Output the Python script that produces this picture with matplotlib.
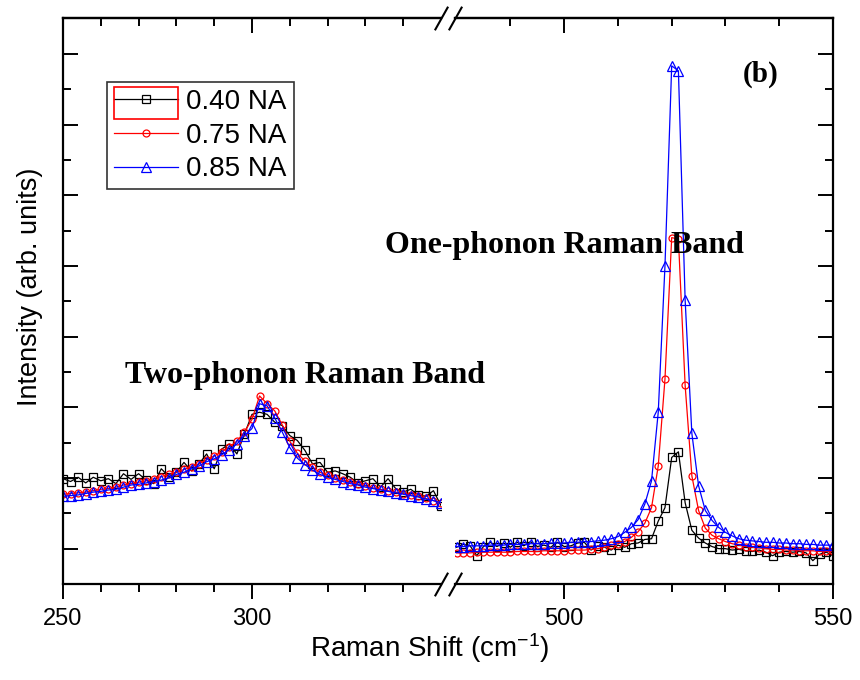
import numpy as np
import matplotlib
matplotlib.use("Agg")
import matplotlib.pyplot as plt
from matplotlib.patches import Rectangle

plt.rcParams['font.family'] = ['Liberation Sans', 'DejaVu Sans']
plt.rcParams['mathtext.default'] = 'regular'

# Raman shift grids (cm^-1) for the two broken segments
shift_low = [250, 252, 254, 256, 258, 260, 262, 264, 266, 268,
             270, 272, 274, 276, 278, 280, 282, 284, 286, 288,
             290, 292, 294, 296, 298, 300, 302, 304, 306, 308,
             310, 312, 314, 316, 318, 320, 322, 324, 326, 328,
             330, 332, 334, 336, 338, 340, 342, 344, 346, 348,
             350]
shift_high = [480.0, 481.25, 482.5, 483.75, 485.0, 486.25, 487.5, 488.75,
              490.0, 491.25, 492.5, 493.75, 495.0, 496.25, 497.5, 498.75,
              500.0, 501.25, 502.5, 503.75, 505.0, 506.25, 507.5, 508.75,
              510.0, 511.25, 512.5, 513.75, 515.0, 516.25, 517.5, 518.75,
              520.0, 521.25, 522.5, 523.75, 525.0, 526.25, 527.5, 528.75,
              530.0, 531.25, 532.5, 533.75, 535.0, 536.25, 537.5, 538.75,
              540.0, 541.25, 542.5, 543.75, 545.0, 546.25, 547.5, 548.75,
              550.0]

# intensities (arb. units), two-phonon region
na040_low = [0.99, 0.95, 1.01, 0.93, 1.01, 0.96, 0.99, 0.92, 1.06, 0.98,
             1.06, 0.97, 0.92, 1.13, 1.02, 1.08, 1.22, 1.10, 1.20, 1.34,
             1.13, 1.41, 1.48, 1.34, 1.62, 1.90, 1.93, 1.90, 1.79, 1.74,
             1.60, 1.53, 1.39, 1.20, 1.22, 1.08, 1.10, 1.06, 1.01, 0.93,
             0.96, 0.99, 0.87, 0.99, 0.85, 0.80, 0.84, 0.76, 0.74, 0.82,
             0.61]
na075_low = [0.77, 0.78, 0.79, 0.80, 0.82, 0.84, 0.85, 0.87, 0.90, 0.92,
             0.94, 0.96, 0.99, 1.02, 1.05, 1.08, 1.12, 1.16, 1.20, 1.26,
             1.31, 1.37, 1.44, 1.52, 1.65, 1.83, 2.16, 2.05, 1.95, 1.75,
             1.52, 1.35, 1.24, 1.15, 1.08, 1.04, 1.00, 0.97, 0.94, 0.91,
             0.89, 0.86, 0.84, 0.82, 0.80, 0.78, 0.76, 0.74, 0.71, 0.68,
             0.64]
na085_low = [0.74, 0.75, 0.76, 0.78, 0.80, 0.81, 0.83, 0.84, 0.87, 0.90,
             0.91, 0.93, 0.95, 0.97, 1.00, 1.05, 1.08, 1.13, 1.17, 1.23,
             1.27, 1.33, 1.40, 1.48, 1.60, 1.70, 2.05, 2.02, 1.85, 1.65,
             1.43, 1.28, 1.19, 1.11, 1.05, 1.01, 0.98, 0.95, 0.92, 0.90,
             0.87, 0.85, 0.83, 0.81, 0.79, 0.77, 0.75, 0.73, 0.70, 0.68,
             0.65]

# intensities (arb. units), one-phonon region
na040_high = [0.02, 0.06, 0.04, -0.10, 0.03, 0.09, 0.03, 0.08,
              0.02, 0.09, 0.04, 0.10, 0.03, 0.05, 0.02, 0.09,
              0.03, 0.04, 0.08, 0.09, -0.02, 0.04, 0.02, -0.02,
              0.05, 0.02, 0.07, 0.08, 0.13, 0.14, 0.39, 0.58,
              1.29, 1.37, 0.65, 0.26, 0.15, 0.08, 0.03, 0.00,
              0.00, -0.02, -0.01, -0.03, -0.04, -0.02, -0.05, -0.10,
              -0.05, -0.04, -0.05, -0.04, -0.06, -0.17, -0.08, -0.05,
              -0.10]
na075_high = [-0.06, -0.06, -0.06, -0.05, -0.05, -0.05, -0.05, -0.05,
              -0.05, -0.04, -0.04, -0.04, -0.04, -0.03, -0.03, -0.03,
              -0.03, -0.02, -0.02, -0.02, -0.01, 0.00, 0.02, 0.05,
              0.07, 0.10, 0.16, 0.24, 0.36, 0.58, 1.17, 2.40,
              4.40, 4.38, 2.31, 1.03, 0.54, 0.29, 0.19, 0.14,
              0.10, 0.07, 0.05, 0.03, 0.02, 0.01, 0.00, -0.01,
              -0.01, -0.02, -0.02, -0.03, -0.03, -0.03, -0.04, -0.04,
              -0.04]
na085_high = [0.03, 0.03, 0.04, 0.04, 0.04, 0.05, 0.05, 0.05,
              0.06, 0.06, 0.06, 0.07, 0.07, 0.07, 0.08, 0.08,
              0.08, 0.09, 0.09, 0.10, 0.10, 0.11, 0.12, 0.14,
              0.17, 0.23, 0.30, 0.41, 0.63, 0.96, 1.93, 4.00,
              6.83, 6.76, 3.52, 1.63, 0.89, 0.54, 0.40, 0.30,
              0.23, 0.18, 0.14, 0.12, 0.11, 0.10, 0.09, 0.09,
              0.08, 0.08, 0.07, 0.07, 0.06, 0.06, 0.05, 0.05,
              0.05]

labels = ['0.40 NA', '0.75 NA', '0.85 NA']
colors = ['black', 'red', 'blue']
markers = ['s', 'o', '^']
msizes = [5.5, 5, 6.5]

fig = plt.figure(figsize=(8.6, 6.8), dpi=100)
W, H = 860.0, 680.0
bot = 1 - 584 / H
hgt = (584 - 18.5) / H
ax1 = fig.add_axes([63 / W, bot, 378 / W, hgt])
ax2 = fig.add_axes([455 / W, bot, 378 / W, hgt])

lows = [na040_low, na075_low, na085_low]
highs = [na040_high, na075_high, na085_high]
for i in range(3):
    ax1.plot(shift_low, lows[i], color=colors[i], marker=markers[i], ms=msizes[i],
             mfc='none', mec=colors[i], mew=0.9, lw=0.9, label=labels[i])
    ax2.plot(shift_high, highs[i], color=colors[i], marker=markers[i], ms=msizes[i],
             mfc='none', mec=colors[i], mew=0.9, lw=0.9)

ax1.set_xlim(250, 350)
ax2.set_xlim(479.7, 550)
for ax in (ax1, ax2):
    ax.set_ylim(-0.5, 7.5)
    ax.set_yticks(np.arange(0, 8, 1))
    ax.set_yticks(np.arange(-0.5, 7.6, 1), minor=True)
    for s in ax.spines.values():
        s.set_linewidth(1.6)

ax1.set_xticks([250, 300])
ax1.set_xticks([260, 270, 280, 290, 310, 320, 330, 340], minor=True)
ax2.set_xticks([500, 550])
ax2.set_xticks([490, 510, 520, 530, 540], minor=True)

ax1.spines['right'].set_visible(False)
ax2.spines['left'].set_visible(False)

ax1.tick_params(axis='y', which='both', direction='in', left=True, right=False,
                labelleft=False, width=1.4)
ax2.tick_params(axis='y', which='both', direction='in', left=False, right=True,
                labelleft=False, labelright=False, width=1.4)
for ax in (ax1, ax2):
    ax.tick_params(axis='y', which='major', length=11)
    ax.tick_params(axis='y', which='minor', length=6)
    ax.tick_params(axis='x', which='both', direction='out', bottom=True, top=False,
                   labelsize=17, width=1.4, pad=6)
    ax.tick_params(axis='x', which='major', length=11)
    ax.tick_params(axis='x', which='minor', length=6)
    sec = ax.secondary_xaxis('top')
    sec.set_xticks(ax.get_xticks())
    sec.set_xticks(ax.get_xticks(minor=True), minor=True)
    sec.tick_params(axis='x', which='both', direction='in', labeltop=False, width=1.4)
    sec.tick_params(axis='x', which='major', length=11)
    sec.tick_params(axis='x', which='minor', length=6)
    sec.spines['top'].set_linewidth(1.6)

# break marks
brk = dict(marker=[(-0.28, -0.5), (0.28, 0.5)], markersize=17, linestyle='none',
           color='black', mec='black', mew=1.5, clip_on=False)
ax1.plot([1, 1], [0, 1], transform=ax1.transAxes, **brk)
ax2.plot([0, 0], [0, 1], transform=ax2.transAxes, **brk)

leg = ax1.legend(loc='upper left', bbox_to_anchor=(0.117, 0.888), borderaxespad=0,
                 fontsize=20, handlelength=2.3, handletextpad=0.3,
                 labelspacing=0.28, borderpad=0.25, fancybox=False, framealpha=1)
leg.get_frame().set_edgecolor('#333333')
leg.get_frame().set_linewidth(1.2)

# red selection box around the first legend handle
fig.patches.append(Rectangle((114 / W, 1 - 119 / H), 64 / W, 32 / H,
                             transform=fig.transFigure, fill=False,
                             edgecolor='red', linewidth=1.2))

fig.text(125 / W, 1 - 375 / H, 'Two-phonon Raman Band', family='Liberation Serif',
         fontweight='bold', fontsize=23, ha='left', va='center')
fig.text(385 / W, 1 - 245 / H, 'One-phonon Raman Band', family='Liberation Serif',
         fontweight='bold', fontsize=23, ha='left', va='center')
fig.text(761 / W, 1 - 74 / H, '(b)', family='Liberation Serif',
         fontweight='bold', fontsize=21, ha='center', va='center')

fig.text(430 / W, 1 - 648 / H, 'Raman Shift (cm$^{-1}$)', fontsize=20,
         ha='center', va='center')
fig.text(30 / W, 1 - 287 / H, 'Intensity (arb. units)', fontsize=19.5,
         rotation=90, ha='center', va='center')

fig.savefig('out.png', dpi=100)
